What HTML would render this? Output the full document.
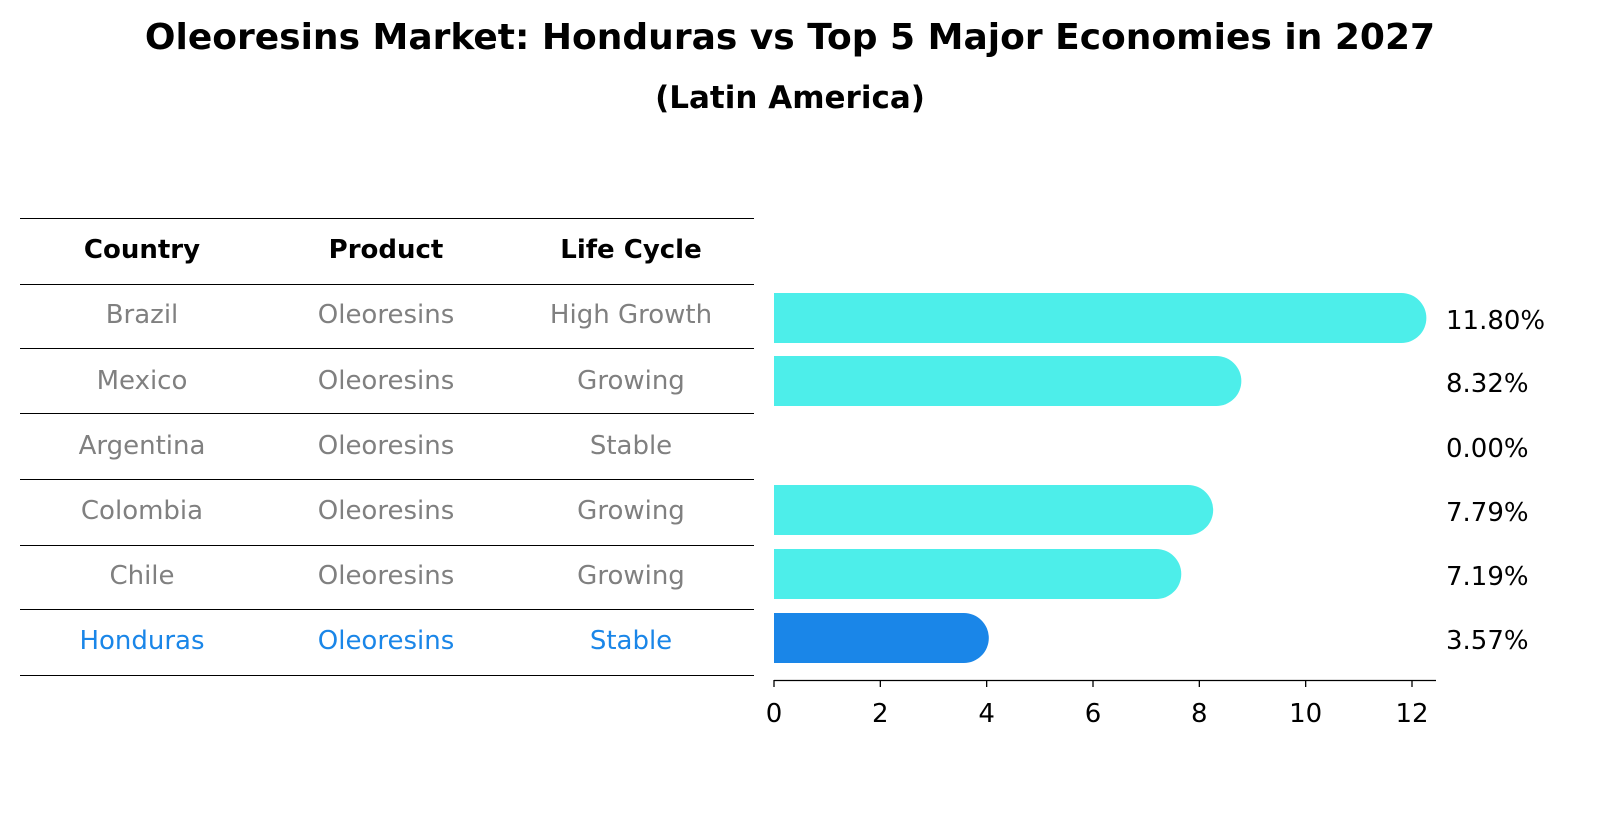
<!DOCTYPE html>
<html><head><meta charset="utf-8"><style>
body{margin:0;background:#fff;font-family:"Liberation Sans","DejaVu Sans",sans-serif}
#c{position:relative;width:1604px;height:823px;overflow:hidden}
</style></head><body>
<div id="c">
<svg id="s" width="1604" height="823" xmlns="http://www.w3.org/2000/svg" font-family="DejaVu Sans, Liberation Sans, sans-serif">
<text x="790" y="49" text-anchor="middle" font-size="36" font-weight="bold">Oleoresins Market: Honduras vs Top 5 Major Economies in 2027</text>
<text x="790" y="108" text-anchor="middle" font-size="31" font-weight="bold">(Latin America)</text>
<g id="tbl"></g>
<g id="bars"></g>
</svg>
</div>
<script>
const countries=["Brazil","Mexico","Argentina","Colombia","Chile","Honduras"];
const products=["Oleoresins","Oleoresins","Oleoresins","Oleoresins","Oleoresins","Oleoresins"];
const lifeCycles=["High Growth","Growing","Stable","Growing","Growing","Stable"];
const values=[11.80,8.32,0.00,7.79,7.19,3.57];
const ticks=[0,2,4,6,8,10,12];
const NS="http://www.w3.org/2000/svg";
function mk(tag,attrs,parent,txt){const e=document.createElementNS(NS,tag);for(const k in attrs)e.setAttribute(k,attrs[k]);if(txt!==undefined)e.textContent=txt;parent.appendChild(e);return e;}
const tbl=document.getElementById('tbl'),bars=document.getElementById('bars');
const lines=[218,284,348,413,479,545,609,675];
lines.forEach(y=>{const l=mk('line',{x1:20,x2:754,y1:y+0.5,y2:y+0.5,stroke:'#000','stroke-width':1},tbl);

});
const colX=[142,386,631];
["Country","Product","Life Cycle"].forEach((h,i)=>{const t=mk('text',{x:colX[i],y:258,'text-anchor':'middle','font-size':26,'font-weight':'bold'},tbl,h);

});
const rowY=[318,381,446,510,574,638];
const txtY=[314,380,445,510,575,640];
const x0=774,sc=(1412-774)/12;
function xs(v){return x0+v*sc;}
countries.forEach((c,i)=>{const col=c==="Honduras"?"#1a86e8":"#808080";
[c,products[i],lifeCycles[i]].forEach((v,j)=>{const t=mk('text',{x:colX[j],y:txtY[i]+9,'text-anchor':'middle','font-size':26,fill:col},tbl,v);

});
const v=values[i];const fill=c==="Honduras"?"#1a86e8":"#4deeea";
if(v>0){const w=xs(v)-x0,h=50,r=25;
const p=mk('path',{d:`M${x0},${rowY[i]-h/2}H${x0+w}A${r},${r} 0 0 1 ${x0+w},${rowY[i]+h/2}H${x0}Z`,fill:fill},bars);

}
const t=mk('text',{x:1446,y:rowY[i]+11,'font-size':26},bars,v.toFixed(2)+'%');

});
const ax=mk('line',{x1:x0,x2:1436,y1:680.5,y2:680.5,stroke:'#000','stroke-width':1.3},bars);


ticks.forEach(t=>{const l=mk('line',{x1:xs(t),x2:xs(t),y1:680,y2:687,stroke:'#000','stroke-width':1.3},bars);


const tx=mk('text',{x:xs(t),y:722,'text-anchor':'middle','font-size':26},bars,String(t));

});
</script>
</body></html>
